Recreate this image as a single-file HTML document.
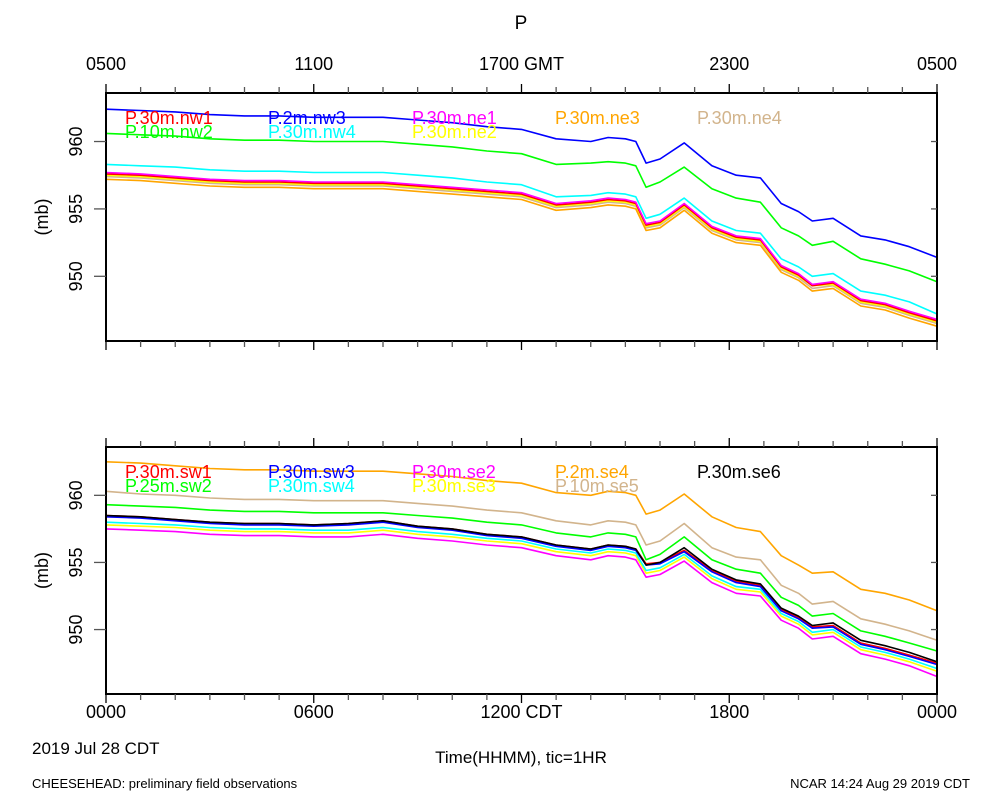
<!DOCTYPE html>
<html><head><meta charset="utf-8">
<style>
body{margin:0;background:#fff;}
svg{display:block;font-family:"Liberation Sans",sans-serif;}
</style></head>
<body>
<svg id="chart" width="1000" height="800" viewBox="0 0 1000 800" xmlns="http://www.w3.org/2000/svg">
<rect x="0" y="0" width="1000" height="800" fill="#fff"/>
<text x="521" y="29" font-size="19" text-anchor="middle">P</text>
<g id="top"></g>
<g id="bot"></g>
<text x="32" y="754" font-size="17">2019 Jul 28 CDT</text>
<text x="521" y="763" font-size="17" text-anchor="middle">Time(HHMM), tic=1HR</text>
<text x="32" y="788" font-size="13">CHEESEHEAD: preliminary field observations</text>
<text x="970" y="788" font-size="13" text-anchor="end">NCAR 14:24 Aug 29 2019 CDT</text>
</svg>
<script>
const times=[0,1,2,3,4,5,6,7,8,9,10,11,12,13,14,14.5,15,15.3,15.6,16,16.7,17.5,18.2,18.9,19.5,20,20.4,21,21.8,22.5,23.2,24];
const yTicks=[950,955,960];
const topTickLabels=["0500","1100","1700 GMT","2300","0500"];
const botTickLabels=["0000","0600","1200 CDT","1800","0000"];

const nw3=[962.4,962.3,962.2,962.0,961.9,961.9,961.8,961.8,961.8,961.6,961.4,961.1,960.9,960.2,960.0,960.3,960.2,960.0,958.4,958.7,959.9,958.2,957.5,957.3,955.4,954.8,954.1,954.3,953.0,952.7,952.2,951.4];
const nw2=[960.6,960.5,960.4,960.2,960.1,960.1,960.0,960.0,960.0,959.8,959.6,959.3,959.1,958.3,958.4,958.5,958.4,958.2,956.6,957.0,958.1,956.5,955.8,955.5,953.6,953.0,952.3,952.6,951.3,950.9,950.4,949.6];
const nw4=[958.3,958.2,958.1,957.9,957.8,957.8,957.7,957.7,957.7,957.5,957.3,957.0,956.8,955.9,956.0,956.2,956.1,955.9,954.3,954.6,955.8,954.1,953.4,953.2,951.3,950.7,950.0,950.2,948.9,948.6,948.1,947.2];
const ne1=[957.7,957.6,957.4,957.2,957.1,957.1,957.0,957.0,957.0,956.8,956.6,956.4,956.2,955.4,955.6,955.8,955.7,955.5,953.9,954.1,955.4,953.7,953.0,952.8,950.8,950.2,949.4,949.6,948.3,948.0,947.4,946.8];
const nw1=[957.6,957.5,957.3,957.1,957.0,957.0,956.9,956.9,956.9,956.7,956.5,956.3,956.1,955.3,955.5,955.7,955.6,955.4,953.8,954.0,955.3,953.6,952.9,952.7,950.7,950.1,949.3,949.5,948.2,947.9,947.3,946.7];
const ne2=[957.5,957.4,957.2,957.0,956.9,956.9,956.8,956.8,956.8,956.6,956.4,956.2,956.0,955.2,955.4,955.6,955.5,955.3,953.7,953.9,955.2,953.5,952.8,952.6,950.6,950.0,949.3,949.4,948.1,947.8,947.2,946.6];
const ne4=[957.4,957.3,957.1,956.9,956.8,956.8,956.7,956.7,956.7,956.5,956.3,956.1,955.9,955.1,955.3,955.5,955.4,955.2,953.6,953.8,955.1,953.4,952.7,952.5,950.5,949.9,949.1,949.3,948.0,947.7,947.1,946.5];
const ne3=[957.2,957.1,956.9,956.7,956.6,956.6,956.5,956.5,956.5,956.3,956.1,955.9,955.7,954.9,955.1,955.3,955.2,955.0,953.4,953.6,954.9,953.2,952.5,952.3,950.3,949.7,948.9,949.1,947.8,947.5,946.9,946.3];

const se4=[962.5,962.4,962.2,962.0,961.9,961.9,961.8,961.8,961.8,961.6,961.4,961.1,960.9,960.2,960.0,960.3,960.2,960.0,958.6,958.9,960.1,958.4,957.6,957.3,955.5,954.8,954.2,954.3,953.0,952.7,952.2,951.4];
const se5=[960.3,960.1,960.0,959.8,959.7,959.7,959.6,959.6,959.6,959.4,959.2,958.9,958.7,958.1,957.8,958.1,958.0,957.8,956.3,956.6,957.9,956.1,955.4,955.2,953.3,952.7,951.9,952.1,950.8,950.4,949.9,949.2];
const sw2=[959.3,959.2,959.1,958.9,958.8,958.8,958.7,958.7,958.7,958.5,958.3,958.0,957.8,957.2,956.9,957.2,957.1,956.9,955.2,955.6,956.9,955.2,954.5,954.2,952.4,951.8,951.0,951.2,949.9,949.5,949.0,948.4];
const sw1=[958.5,958.4,958.2,958.0,957.9,957.9,957.8,957.9,958.1,957.7,957.5,957.1,956.9,956.3,956.0,956.3,956.2,956.0,954.9,955.0,955.9,954.4,953.6,953.3,951.5,950.9,950.2,950.3,949.0,948.6,948.1,947.5];
const sw3=[958.4,958.3,958.1,957.9,957.8,957.8,957.7,957.8,958.0,957.6,957.4,957.0,956.8,956.2,955.9,956.2,956.1,955.9,954.8,954.9,955.8,954.3,953.5,953.2,951.4,950.8,950.1,950.2,948.9,948.5,948.0,947.4];
const se6=[958.5,958.4,958.2,958.0,957.9,957.9,957.8,957.9,958.1,957.7,957.5,957.1,956.9,956.3,956.0,956.3,956.2,956.0,954.8,955.0,956.1,954.5,953.7,953.4,951.6,951.0,950.3,950.5,949.2,948.8,948.3,947.6];
const sw4=[958.0,957.9,957.8,957.6,957.5,957.5,957.4,957.4,957.6,957.3,957.1,956.8,956.6,956.0,955.7,956.0,955.9,955.7,954.4,954.6,955.6,954.0,953.2,953.0,951.2,950.6,949.8,950.0,948.7,948.3,947.8,947.1];
const se3=[957.8,957.7,957.6,957.4,957.3,957.3,957.2,957.2,957.4,957.1,956.9,956.6,956.4,955.8,955.5,955.8,955.7,955.5,954.2,954.4,955.4,953.8,953.0,952.8,951.0,950.4,949.6,949.8,948.5,948.1,947.6,946.9];
const se2=[957.5,957.4,957.3,957.1,957.0,957.0,956.9,956.9,957.1,956.8,956.6,956.3,956.1,955.5,955.2,955.5,955.4,955.2,953.9,954.1,955.1,953.5,952.7,952.5,950.7,950.1,949.3,949.5,948.2,947.8,947.3,946.5];

const NS="http://www.w3.org/2000/svg";
const X0=106,X1=937;
function xs(h){return X0+(X1-X0)*h/24;}
function mk(tag,attrs,parent){const e=document.createElementNS(NS,tag);for(const k in attrs)e.setAttribute(k,attrs[k]);parent.appendChild(e);return e;}

function panel(g,top,bottom,series,legend,tickLabels,labelsOnTop){
  const ymin=945.2,ymax=963.6;
  const ys=v=>top+(ymax-v)/(ymax-ymin)*(bottom-top);
  series.forEach(s=>{
    let d='';
    times.forEach((t,i)=>{d+=(i?'L':'M')+xs(t).toFixed(1)+' '+ys(s.v[i]).toFixed(1);});
    const p=mk('path',{d:d,fill:'none',stroke:s.c,'stroke-width':1.6,'stroke-linejoin':'round'},g);
    
    
  });
  const f=mk('rect',{x:X0,y:top,width:X1-X0,height:bottom-top,fill:'none',stroke:'#000','stroke-width':2},g);
  
  
  for(let h=0;h<=24;h++){
    const x=xs(h),len=(h%6===0)?9:6;
    const col=(h%6===0)?'#000':'#555';
    const t1=mk('line',{x1:x,x2:x,y1:top,y2:top-len,stroke:col,'stroke-width':1.3},g);
    
    
    const t2=mk('line',{x1:x,x2:x,y1:bottom,y2:bottom+len,stroke:col,'stroke-width':1.3},g);
    
    
  }
  tickLabels.forEach((lab,i)=>{
    const y=labelsOnTop?top-23:bottom+24;
    const t=mk('text',{x:xs(i*6),y:y,'font-size':18,'text-anchor':'middle'},g);
    t.textContent=lab;
    
    
  });
  yTicks.forEach(v=>{
    const y=ys(v);
    const l=mk('line',{x1:X0-12,x2:X0,y1:y,y2:y,stroke:'#555','stroke-width':1.3},g);
    
    
    const r=mk('line',{x1:X1-6,x2:X1,y1:y,y2:y,stroke:'#555','stroke-width':1.3},g);
    
    
    const t=mk('text',{x:0,y:0,'font-size':18,'text-anchor':'middle',transform:`translate(${X0-24},${y}) rotate(-90)`},g);
    t.textContent=String(v);
    
    
  });
  const yt=mk('text',{x:0,y:0,'font-size':18,'text-anchor':'middle',transform:`translate(48,${(top+bottom)/2}) rotate(-90)`},g);
  yt.textContent='(mb)';
  
  
  const lx=[125,268,412,555,697];
  legend.forEach((s,i)=>{
    const col=i%5,row=Math.floor(i/5);
    const t=mk('text',{x:lx[col],y:top+31+row*14,'font-size':18,fill:s.c},g);
    t.textContent=s.label;
    
    
  });
}

const topSeries=[
 {n:'nw3',c:'#0000ff',v:nw3},
 {n:'nw2',c:'#00ff00',v:nw2},
 {n:'nw4',c:'#00ffff',v:nw4},
 {n:'ne4',c:'#d2b48c',v:ne4},
 {n:'ne2',c:'#ffff00',v:ne2},
 {n:'ne3',c:'#ffa500',v:ne3},
 {n:'nw1',c:'#ff0000',v:nw1},
 {n:'ne1',c:'#ff00ff',v:ne1}
];
const topLegend=[
 {c:'#ff0000',label:'P.30m.nw1'},{c:'#0000ff',label:'P.2m.nw3'},{c:'#ff00ff',label:'P.30m.ne1'},{c:'#ffa500',label:'P.30m.ne3'},{c:'#d2b48c',label:'P.30m.ne4'},
 {c:'#00ff00',label:'P.10m.nw2'},{c:'#00ffff',label:'P.30m.nw4'},{c:'#ffff00',label:'P.30m.ne2'}
];
const botSeries=[
 {n:'se4',c:'#ffa500',v:se4},
 {n:'se5',c:'#d2b48c',v:se5},
 {n:'sw2',c:'#00ff00',v:sw2},
 {n:'se2',c:'#ff00ff',v:se2},
 {n:'se3',c:'#ffff00',v:se3},
 {n:'sw4',c:'#00ffff',v:sw4},
 {n:'sw1',c:'#ff0000',v:sw1},
 {n:'sw3',c:'#0000ff',v:sw3},
 {n:'se6',c:'#000000',v:se6}
];
const botLegend=[
 {c:'#ff0000',label:'P.30m.sw1'},{c:'#0000ff',label:'P.30m.sw3'},{c:'#ff00ff',label:'P.30m.se2'},{c:'#ffa500',label:'P.2m.se4'},{c:'#000000',label:'P.30m.se6'},
 {c:'#00ff00',label:'P.25m.sw2'},{c:'#00ffff',label:'P.30m.sw4'},{c:'#ffff00',label:'P.30m.se3'},{c:'#d2b48c',label:'P.10m.se5'}
];
panel(document.getElementById('top'),93,341,topSeries,topLegend,topTickLabels,true);
panel(document.getElementById('bot'),447,694,botSeries,botLegend,botTickLabels,false);
</script>
</body></html>
